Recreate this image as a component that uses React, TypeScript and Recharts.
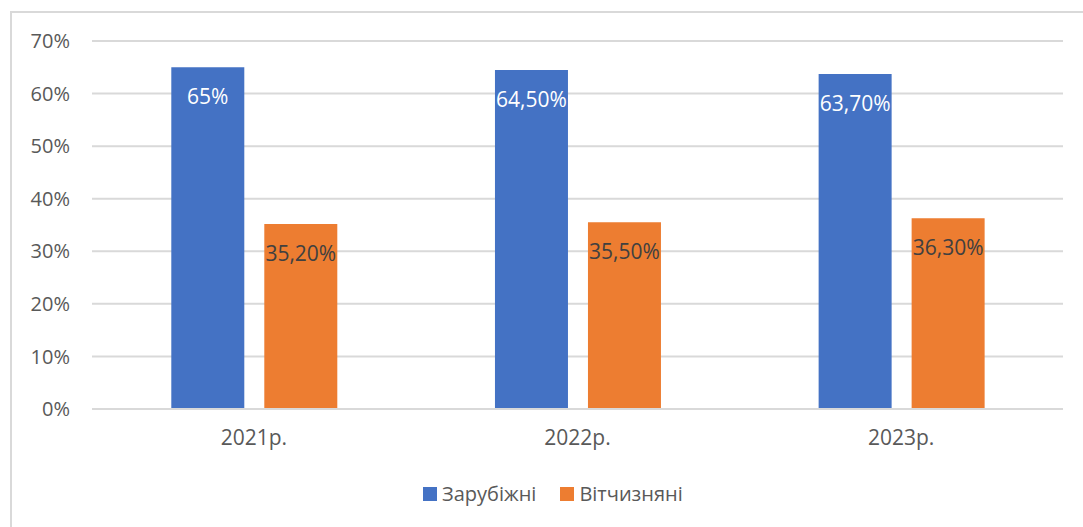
import { BarChart, Bar, XAxis, YAxis, CartesianGrid, LabelList } from 'recharts'

const years = ['2021р.', '2022р.', '2023р.']
const foreign = [65, 64.5, 63.7]
const domestic = [35.2, 35.5, 36.3]
const foreignLabels = ['65%', '64,50%', '63,70%']
const domesticLabels = ['35,20%', '35,50%', '36,30%']
const yTicks = [0, 10, 20, 30, 40, 50, 60, 70]

const BLUE = '#4472C4'
const ORANGE = '#ED7D31'
const FONT = '"Open Sans", sans-serif'

const data = years.map((name, i) => ({
  name,
  foreign: foreign[i],
  domestic: domestic[i],
  foreignLabel: foreignLabels[i],
  domesticLabel: domesticLabels[i],
}))

// eslint-disable-next-line @typescript-eslint/no-explicit-any
const makeLabel = (fill: string) => (props: any) => {
  const { x, y, width, value } = props
  return (
    <text
      x={x + width / 2}
      y={y + 29}
      textAnchor="middle"
      dominantBaseline="central"
      fill={fill}
      fontSize={21}
      fontFamily={FONT}
    >
      {value}
    </text>
  )
}

function LegendBox() {
  const item = (color: string, label: string) => (
    <span style={{ display: 'inline-flex', alignItems: 'center', marginRight: 24 }}>
      <span style={{ width: 14, height: 14, background: color, display: 'inline-block', marginRight: 5 }} />
      <span>{label}</span>
    </span>
  )
  return (
    <div
      style={{
        position: 'absolute',
        left: 423,
        top: 480,
        fontFamily: FONT,
        fontSize: 20,
        color: '#595959',
        display: 'flex',
        whiteSpace: 'nowrap',
      }}
    >
      {item(BLUE, 'Зарубіжні')}
      {item(ORANGE, 'Вітчизняні')}
    </div>
  )
}

export default function App() {
  return (
    <div style={{ position: 'absolute', left: 0, top: 0, width: 1083, height: 527, background: '#fff', overflow: 'hidden' }}>
      <div
        style={{
          position: 'absolute',
          left: 10,
          top: 11,
          width: 1100,
          height: 560,
          border: '2px solid #D9D9D9',
          boxSizing: 'border-box',
        }}
      />
      <BarChart
        width={1083}
        height={527}
        data={data}
        margin={{ top: 41, right: 20, bottom: 88, left: 0 }}
        barGap={20}
        barCategoryGap="24.5%"
        style={{ position: 'absolute', left: 0, top: 0 }}
      >
        <CartesianGrid vertical={false} stroke="#D9D9D9" strokeWidth={2} />
        <XAxis
          dataKey="name"
          height={30}
          axisLine={{ stroke: '#D9D9D9', strokeWidth: 2 }}
          tickLine={false}
          tickSize={0}
          tickMargin={21}
          tick={{ fill: '#595959', fontSize: 21, fontFamily: FONT }}
        />
        <YAxis
          width={92}
          domain={[0, 70]}
          ticks={yTicks}
          axisLine={false}
          tickLine={false}
          tickSize={0}
          tickMargin={22}
          tickFormatter={(v) => `${v}%`}
          tick={{ fill: '#595959', fontSize: 20, fontFamily: FONT }}
        />
        <Bar dataKey="foreign" fill={BLUE} isAnimationActive={false}>
          <LabelList dataKey="foreignLabel" content={makeLabel('#FFFFFF')} />
        </Bar>
        <Bar dataKey="domestic" fill={ORANGE} isAnimationActive={false}>
          <LabelList dataKey="domesticLabel" content={makeLabel('#404040')} />
        </Bar>
      </BarChart>
      <LegendBox />
    </div>
  )
}
